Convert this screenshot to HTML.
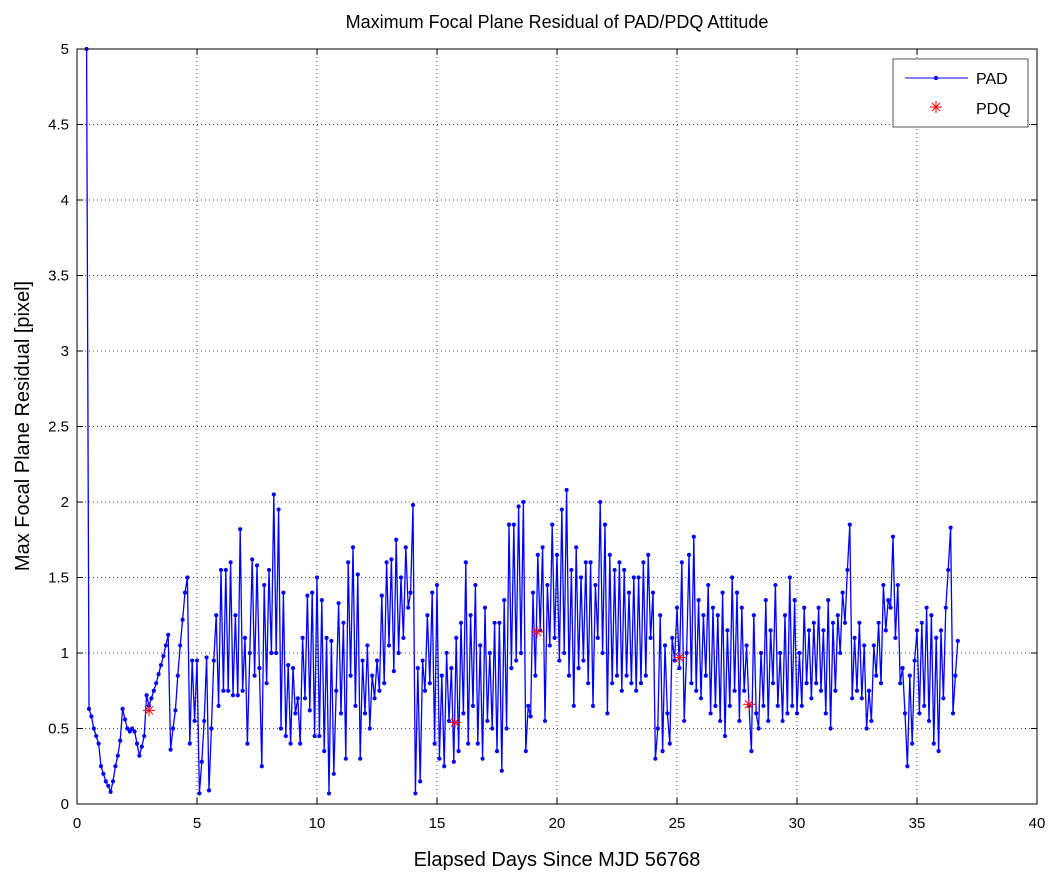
<!DOCTYPE html>
<html><head><meta charset="utf-8">
<style>
html,body{margin:0;padding:0;background:#fff;}
svg{display:block;font-family:"Liberation Sans",sans-serif;}
</style></head>
<body>
<svg id="chart" width="1057" height="875" viewBox="0 0 1057 875" xmlns="http://www.w3.org/2000/svg">
<text x="557" y="28" text-anchor="middle" font-size="18">Maximum Focal Plane Residual of PAD/PDQ Attitude</text>
<text x="557" y="866" text-anchor="middle" font-size="20">Elapsed Days Since MJD 56768</text>
<text transform="translate(29,426) rotate(-90)" text-anchor="middle" font-size="20">Max Focal Plane Residual [pixel]</text>
<g id="grid"></g>
<g id="ticks"></g>
<g id="series"></g>
<rect x="77" y="49" width="960" height="755" fill="none" stroke="#000" stroke-width="1"/>
<g>
<rect x="893" y="59" width="135" height="68" fill="#fff" stroke="#555" stroke-width="1"/>
<line x1="905" y1="78" x2="968" y2="78" stroke="#0000ff" stroke-width="1"/>
<circle cx="936" cy="78" r="2.1" fill="#0000ff"/>
<text x="976" y="84" font-size="16">PAD</text>
<g stroke="#ff0000" stroke-width="1">
<line x1="930" y1="107" x2="942" y2="107"/><line x1="936" y1="101" x2="936" y2="113"/>
<line x1="932" y1="103" x2="940" y2="111"/><line x1="940" y1="103" x2="932" y2="111"/></g>
<text x="976" y="114" font-size="16">PDQ</text>
</g>
</svg>
<script>
const xTicks=[0,5,10,15,20,25,30,35,40];
const yTicks=[0,0.5,1,1.5,2,2.5,3,3.5,4,4.5,5];
const yTickLabels=["0","0.5","1","1.5","2","2.5","3","3.5","4","4.5","5"];
const padStartDay=0.4;
const padStepDay=0.1;
const padValues=[
5.0,0.63,0.58,0.5,0.45,0.40,0.25,0.2,0.15,0.12,
0.08,0.15,0.25,0.32,0.42,0.63,0.56,0.50,0.48,0.50,
0.48,0.40,0.32,0.38,0.45,0.72,0.65,0.70,0.75,0.80,
0.86,0.92,0.98,1.05,1.12,0.36,0.50,0.62,0.85,1.05,
1.22,1.40,1.50,0.40,0.95,0.55,0.95,0.07,0.28,0.55,
0.97,0.09,0.50,0.95,1.25,0.65,1.55,0.75,1.55,0.75,
1.60,0.72,1.25,0.72,1.82,0.75,1.10,0.40,1.00,1.62,
0.85,1.58,0.90,0.25,1.45,0.80,1.55,1.00,2.05,1.00,
1.95,0.50,1.40,0.45,0.92,0.40,0.90,0.60,0.70,0.40,
1.10,0.70,1.38,0.62,1.40,0.45,1.50,0.45,1.35,0.35,
1.10,0.07,1.08,0.20,0.75,1.33,0.60,1.20,0.30,1.60,
0.85,1.70,0.65,1.52,0.30,0.95,0.60,1.05,0.50,0.85,
0.70,0.95,0.75,1.38,0.80,1.60,1.05,1.62,0.88,1.75,
1.00,1.50,1.10,1.70,1.30,1.40,1.98,0.07,0.90,0.15,
0.95,0.75,1.25,0.80,1.40,0.40,1.45,0.30,0.85,0.25,
1.00,0.55,0.90,0.28,1.10,0.35,1.20,0.60,1.60,0.40,
1.25,0.65,1.45,0.40,1.05,0.30,1.30,0.55,1.00,0.50,
1.20,0.35,1.20,0.22,1.35,0.50,1.85,0.90,1.85,0.95,
1.97,1.00,2.00,0.35,0.65,0.58,1.40,0.85,1.65,1.15,
1.70,0.55,1.45,1.05,1.85,1.10,1.65,0.95,1.95,1.00,
2.08,0.85,1.55,0.65,1.70,0.90,1.50,0.95,1.60,0.80,
1.60,0.65,1.45,1.10,2.00,1.00,1.85,0.60,1.65,0.80,
1.55,0.85,1.60,0.75,1.55,0.85,1.40,0.80,1.50,0.75,
1.50,0.80,1.60,0.85,1.65,1.10,1.40,0.30,0.50,1.25,
0.35,1.05,0.60,0.40,1.10,0.95,1.30,0.90,1.60,0.55,
1.00,1.65,0.80,1.77,0.75,1.35,0.70,1.25,0.85,1.45,
0.60,1.30,0.65,1.25,0.55,1.40,0.45,1.15,0.65,1.50,
0.75,1.40,0.55,1.30,0.75,1.05,0.65,0.35,1.25,0.60,
0.50,1.00,0.65,1.35,0.55,1.15,0.80,1.45,0.65,1.00,
0.55,1.25,0.60,1.50,0.65,1.35,0.60,1.00,0.65,1.30,
0.80,1.15,0.70,1.20,0.80,1.30,0.75,1.15,0.60,1.35,
0.50,1.20,0.75,1.25,1.00,1.40,1.20,1.55,1.85,0.70,
1.10,0.75,1.20,0.70,1.05,0.50,0.75,0.55,1.05,0.85,
1.20,0.80,1.45,1.15,1.35,1.30,1.77,1.10,1.45,0.80,
0.90,0.60,0.25,0.85,0.40,0.95,1.15,0.60,1.20,0.65,
1.30,0.55,1.25,0.40,1.10,0.35,1.15,0.70,1.30,1.55,
1.83,0.60,0.85,1.08];
const pdqDays=[3.0,15.75,19.17,25.1,28.0];
const pdqValues=[0.62,0.54,1.14,0.97,0.66];

const NS="http://www.w3.org/2000/svg";
const L=77,R=1037,T=49,B=804;
function xs(d){return L+(d-0)/(40-0)*(R-L);}
function ys(v){return B-(v-0)/(5-0)*(B-T);}
function mk(tag,attrs,parent){const e=document.createElementNS(NS,tag);for(const k in attrs)e.setAttribute(k,attrs[k]);parent.appendChild(e);return e;}
const grid=document.getElementById('grid'),ticks=document.getElementById('ticks'),series=document.getElementById('series');
xTicks.forEach((t,i)=>{
  const x=xs(t);
  if(i>0&&i<xTicks.length-1){const g=mk('line',{x1:x,y1:T,x2:x,y2:B,stroke:'#444','stroke-width':1,'stroke-dasharray':'1,3'},grid);
  
  }
  mk('line',{x1:x,y1:B,x2:x,y2:B-6,stroke:'#000'},ticks);
  mk('line',{x1:x,y1:T,x2:x,y2:T+6,stroke:'#000'},ticks);
  const tx=mk('text',{x:x,y:B+24,'text-anchor':'middle','font-size':15},ticks);tx.textContent=String(t);
  
  
});
yTicks.forEach((t,i)=>{
  const y=ys(t);
  if(i>0&&i<yTicks.length-1){const g=mk('line',{x1:L,y1:y,x2:R,y2:y,stroke:'#444','stroke-width':1,'stroke-dasharray':'1,3'},grid);
  
  }
  mk('line',{x1:L,y1:y,x2:L+6,y2:y,stroke:'#000'},ticks);
  mk('line',{x1:R,y1:y,x2:R-6,y2:y,stroke:'#000'},ticks);
  const tx=mk('text',{x:L-8,y:y+5,'text-anchor':'end','font-size':15},ticks);tx.textContent=yTickLabels[i];
  
  
});
let pts=padValues.map((v,i)=>xs(padStartDay+i*padStepDay).toFixed(1)+','+ys(v).toFixed(1)).join(' ');
const pl=mk('polyline',{points:pts,fill:'none',stroke:'#0000ff','stroke-width':1.3},series);


padValues.forEach((v,i)=>{
  const c=mk('circle',{cx:xs(padStartDay+i*padStepDay),cy:ys(v),r:2.1,fill:'#0000ff'},series);
  
  
});
pdqDays.forEach((d,i)=>{
  const x=xs(d),y=ys(pdqValues[i]);
  const g=mk('g',{stroke:'#ff0000','stroke-width':1},series);
  
  
  mk('line',{x1:x-6,y1:y,x2:x+6,y2:y},g);
  mk('line',{x1:x,y1:y-6,x2:x,y2:y+6},g);
  mk('line',{x1:x-4,y1:y-4,x2:x+4,y2:y+4},g);
  mk('line',{x1:x+4,y1:y-4,x2:x-4,y2:y+4},g);
});
</script>
</body></html>
